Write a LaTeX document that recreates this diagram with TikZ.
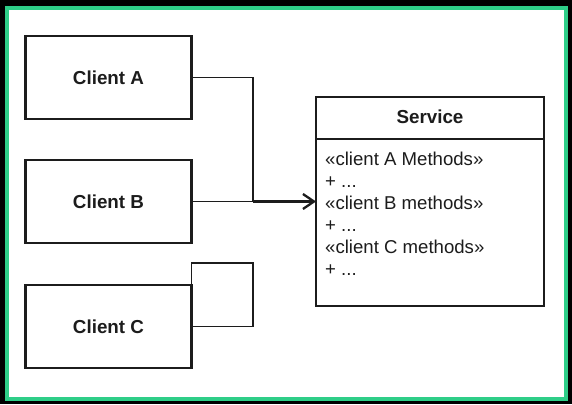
\documentclass[tikz,border=0pt]{standalone}
\usepackage{fontspec}
\setmainfont{Liberation Sans}
\usepackage{tikz}
\usetikzlibrary{arrows.meta}
\usepackage{xcolor}
\definecolor{framegreen}{RGB}{46,206,136}
\definecolor{ink}{RGB}{28,28,28}

\begin{document}
\begin{tikzpicture}[x=1pt,y=-1pt,>={Straight Barb[length=11pt,width=15pt]},line join=miter,
  cls/.style={draw=ink,line width=2.6pt,minimum width=166pt,minimum height=83pt,inner sep=0pt,outer sep=0pt,font=\fontsize{18.8}{22}\selectfont\bfseries,text=ink},
  wire/.style={draw=ink,line width=1.7pt},
  member/.style={anchor=base west,inner sep=0pt,font=\fontsize{18.6}{22}\selectfont,text=ink}]
\fill[black] (0,0) rectangle (572,404);
\useasboundingbox (0,0) rectangle (572,404);
\draw[framegreen,line width=4pt,fill=white] (7,8.5) rectangle (565.5,398.5);
% clients
\node[cls] (clientA) at (108.5,77.5) {Client A};
\node[cls] (clientB) at (108.5,201.5) {Client B};
\node[cls] (clientC) at (108.5,326.5) {Client C};
% service class
\node[cls,minimum width=228pt,minimum height=209pt] (service) at (430,201.5) {};
\node[font=\fontsize{18.8}{22}\selectfont\bfseries,text=ink,inner sep=0pt] (svcTitle) at (430,117) {Service};
\draw[wire] (service.west |- 0,139) -- (service.east |- 0,139);
\node[member] (mA) at (325,165) {«client A Methods»};
\node[member] (mAdots) at (325,187) {+ ...};
\node[member] (mB) at (325,209) {«client B methods»};
\node[member] (mBdots) at (325,231) {+ ...};
\node[member] (mC) at (325,253) {«client C methods»};
\node[member] (mCdots) at (325,275) {+ ...};
% connectors
\coordinate (join) at (253,201.5);
\draw[wire] (clientA.east) -| (join);
\draw[wire] (clientB.east) -- (join);
\draw[wire,line width=2.3pt,->] (join) -- (service.west);
\draw[wire] (clientC.east) -| (253,263) -- (clientC.north east |- 0,263) -- (clientC.north east);
\end{tikzpicture}
\end{document}
